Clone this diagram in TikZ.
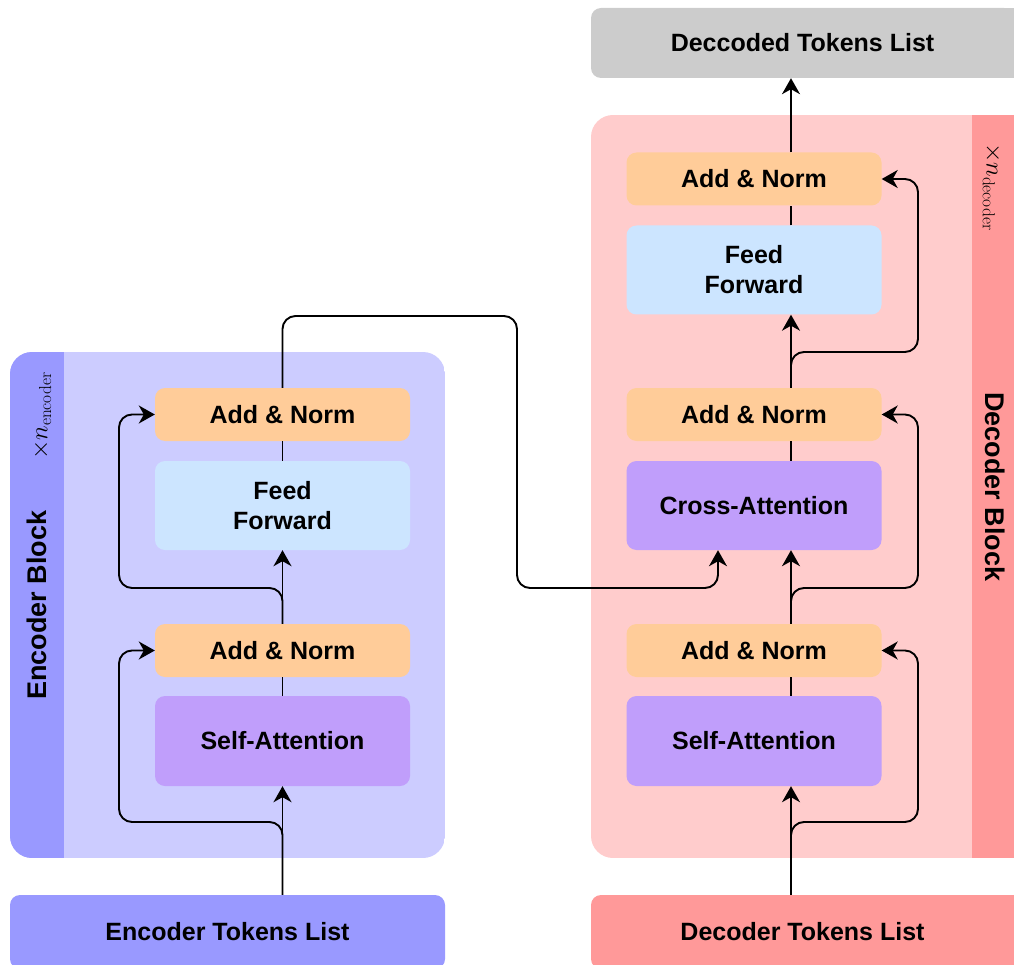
\documentclass[tikz,border=0pt]{standalone}
\usepackage[no-math]{fontspec}
\setmainfont{Liberation Sans}
\usetikzlibrary{arrows.meta,calc}
\definecolor{encBg}{HTML}{CCCCFF}
\definecolor{encStrip}{HTML}{9999FF}
\definecolor{anBox}{HTML}{FFCC99}
\definecolor{ffBox}{HTML}{CCE5FF}
\definecolor{saBox}{HTML}{C09EFB}
\definecolor{decBg}{HTML}{FFCCCC}
\definecolor{decStrip}{HTML}{FF9999}
\definecolor{outBox}{HTML}{CCCCCC}
\tikzset{
  blk/.style={rectangle, rounded corners=10pt, inner sep=0pt, align=center,
    font=\fontsize{25}{30}\selectfont\bfseries, text=black},
  an/.style={blk, fill=anBox, minimum width=255pt, minimum height=53pt},
  ff/.style={blk, fill=ffBox, minimum width=255pt, minimum height=89pt},
  sa/.style={blk, fill=saBox, minimum width=255pt, minimum height=90pt},
  tok/.style={blk, minimum height=74pt},
  side/.style={inner sep=0pt, font=\fontsize{27}{30}\selectfont\bfseries},
  mult/.style={inner sep=0pt, font=\fontsize{26}{30}\selectfont},
  conn/.style={line width=1.9pt, draw=black},
  arr/.style={conn, -{Stealth[length=16pt,width=18pt,inset=5pt]}},
  rc/.style={rounded corners=13pt}
}
\begin{document}
\begin{tikzpicture}[x=1pt,y=-1pt]
\useasboundingbox (0,0) rectangle (1014,965);
\clip (0,0) rectangle (1014,965);

% encoder container
\begin{scope}
  \clip[rounded corners=22pt] (10,352) rectangle (445,858);
  \fill[encBg] (10,352) rectangle (445,858);
  \fill[encStrip] (10,352) rectangle (64,858);
\end{scope}
% decoder container
\begin{scope}
  \clip[rounded corners=22pt] (591,115) rectangle (1040,858);
  \fill[decBg] (591,115) rectangle (1040,858);
  \fill[decStrip] (972,115) rectangle (1040,858);
\end{scope}

% side labels
\node[side, rotate=90] (encLbl) at (37,605) {Encoder Block};
\node[mult, rotate=90] (encMult) at (42,416) {$\times n_{\mathrm{encoder}}$};
\node[side, rotate=-90] (decLbl) at (995,487) {Decoder Block};
\node[mult, rotate=-90] (decMult) at (992,187) {$\times n_{\mathrm{decoder}}$};

% encoder blocks
\node[an] (encAN2) at (282.5,414.5) {Add \& Norm};
\node[ff] (encFF)  at (282.5,505.5) {Feed\\Forward};
\node[an] (encAN1) at (282.5,650.5) {Add \& Norm};
\node[sa] (encSA)  at (282.5,741) {Self-Attention};
\node[tok, fill=encStrip, minimum width=435pt] (encTok) at (227.5,932) {Encoder Tokens List};

% decoder blocks
\node[an] (decAN3) at (754,179) {Add \& Norm};
\node[ff] (decFF)  at (754,270) {Feed\\Forward};
\node[an] (decAN2) at (754,414.5) {Add \& Norm};
\node[ff, fill=saBox] (decCA) at (754,505.5) {Cross-Attention};
\node[an] (decAN1) at (754,650.5) {Add \& Norm};
\node[sa] (decSA)  at (754,741) {Self-Attention};
\node[tok, fill=decStrip, minimum width=423pt] (decTok) at (802.5,932) {Decoder Tokens List};
\fill[decStrip] (990,895) rectangle (1014,969);
\node[blk, fill=outBox, minimum width=423pt, minimum height=70pt] (decOut) at (802.5,43) {Deccoded Tokens List};
\fill[outBox] (990,8) rectangle (1014,78);

% helper coordinates
\coordinate (eL) at (119,0);
\coordinate (yB) at (0,822);
\coordinate (yM) at (0,588);
\coordinate (yT) at (0,352);
\coordinate (cX) at (517,0);
\coordinate (cTop) at (0,316);
\coordinate (cIn) at (718,0);
\coordinate (dM) at (791,0);
\coordinate (dR) at (918,0);

% encoder connectors
\draw[arr] (encSA.south |- encTok.north) -- (encSA.south);
\draw[arr, rc] (encSA.south |- encTok.north) -- (encSA.south |- yB) -- (eL |- yB) -- (eL |- encAN1.west) -- (encAN1.west);
\draw[conn] (encSA.north) -- (encAN1.south);
\draw[arr] (encAN1.north) -- (encFF.south);
\draw[arr, rc] (encAN1.north) -- (encAN1.north |- yM) -- (eL |- yM) -- (eL |- encAN2.west) -- (encAN2.west);
\draw[conn] (encFF.north) -- (encAN2.south);
\draw[arr, rc] (encAN2.north) -- (encAN2.north |- cTop) -- (cX |- cTop) -- (cX |- yM) -- (cIn |- yM) -- (cIn |- decCA.south);

% decoder connectors
\draw[arr] (dM |- decTok.north) -- (dM |- decSA.south);
\draw[arr, rc] (dM |- decTok.north) -- (dM |- yB) -- (dR |- yB) -- (dR |- decAN1.east) -- (decAN1.east);
\draw[conn] (dM |- decSA.north) -- (dM |- decAN1.south);
\draw[arr] (dM |- decAN1.north) -- (dM |- decCA.south);
\draw[arr, rc] (dM |- decAN1.north) -- (dM |- yM) -- (dR |- yM) -- (dR |- decAN2.east) -- (decAN2.east);
\draw[conn] (dM |- decCA.north) -- (dM |- decAN2.south);
\draw[arr] (dM |- decAN2.north) -- (dM |- decFF.south);
\draw[arr, rc] (dM |- decAN2.north) -- (dM |- yT) -- (dR |- yT) -- (dR |- decAN3.east) -- (decAN3.east);
\draw[conn] (dM |- decFF.north) -- (dM |- decAN3.south);
\draw[arr] (dM |- decAN3.north) -- (dM |- decOut.south);
\end{tikzpicture}
\end{document}
